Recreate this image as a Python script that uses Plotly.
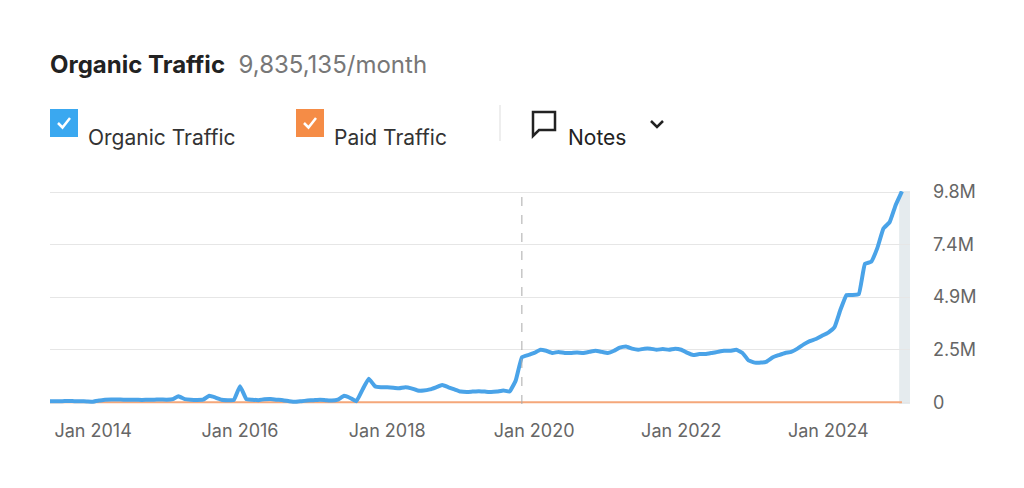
import pandas as pd
import plotly.graph_objects as go

# --- Data (monthly, in millions) ---
months = pd.date_range("2013-06-01", "2025-01-01", freq="MS")
organic_m = (
    [0.05, 0.05, 0.05, 0.06, 0.05, 0.05, 0.04]  # 2013 Jun-Dec
    + [0.03, 0.08, 0.12, 0.13, 0.13, 0.12, 0.12, 0.12, 0.11, 0.12, 0.12, 0.13]  # 2014
    + [0.12, 0.15, 0.28, 0.15, 0.12, 0.11, 0.12, 0.30, 0.22, 0.12, 0.10, 0.10]  # 2015
    + [0.75, 0.15, 0.12, 0.10, 0.14, 0.15, 0.12, 0.10, 0.05, 0.02, 0.05, 0.08]  # 2016
    + [0.10, 0.12, 0.10, 0.08, 0.12, 0.30, 0.20, 0.05, 0.60, 1.10, 0.75, 0.70]  # 2017
    + [0.70, 0.68, 0.65, 0.70, 0.65, 0.55, 0.55, 0.60, 0.70, 0.80, 0.70, 0.60]  # 2018
    + [0.50, 0.48, 0.50, 0.52, 0.50, 0.48, 0.50, 0.55, 0.50, 1.00, 2.10, 2.20]  # 2019
    + [2.30, 2.45, 2.40, 2.30, 2.35, 2.30, 2.30, 2.32, 2.30, 2.35, 2.40, 2.35]  # 2020
    + [2.30, 2.40, 2.55, 2.60, 2.50, 2.45, 2.50, 2.50, 2.45, 2.48, 2.45, 2.50]  # 2021
    + [2.45, 2.30, 2.20, 2.25, 2.25, 2.30, 2.35, 2.40, 2.40, 2.45, 2.30, 1.95]  # 2022
    + [1.85, 1.85, 1.90, 2.10, 2.20, 2.30, 2.35, 2.50, 2.70, 2.85, 2.95, 3.10]  # 2023
    + [3.25, 3.50, 4.30, 5.00, 5.00, 5.05, 6.45, 6.55, 7.20, 8.10, 8.40, 9.20]  # 2024
    + [9.835]  # 2025 Jan
)
organic = [v * 1e6 for v in organic_m]
paid = [0.0] * len(months)

tick_vals = [0, 2.45e6, 4.9e6, 7.35e6, 9.8e6]
tick_text = ["0", "2.5M", "4.9M", "7.4M", "9.8M"]
x_ticks = ["2014-01-01", "2016-01-01", "2018-01-01", "2020-01-01", "2022-01-01", "2024-01-01"]
x_labels = ["Jan 2014", "Jan 2016", "Jan 2018", "Jan 2020", "Jan 2022", "Jan 2024"]

FONT = "Inter, Roboto, sans-serif"
BLUE = "#4aa3e8"
ORANGE = "#f5a77a"

ML, MR, MT, MB = 42, 122, 183, 92
PW = 1024 - ML - MR
PH = 488 - MT - MB


def px(xp):
    return (xp - ML) / PW


def py(yp):
    return (488 - MB - yp) / PH


fig = go.Figure()
fig.add_trace(go.Scatter(x=months, y=paid, mode="lines",
                         line=dict(color=ORANGE, width=2), hoverinfo="skip"))
fig.add_trace(go.Scatter(x=months, y=organic, mode="lines",
                         line=dict(color=BLUE, width=4, shape="spline", smoothing=0.3)))

# highlighted last month + dashed marker
fig.add_vrect(x0="2024-12-18", x1="2025-02-10", fillcolor="#dfe6ea", opacity=0.8,
              line_width=0, layer="below")
fig.add_shape(type="line", x0="2019-11-01", x1="2019-11-01", y0=0, y1=1, yref="paper",
              line=dict(color="#aaaaaa", width=1, dash="dash"))

fig.update_layout(
    width=1024, height=488,
    paper_bgcolor="white", plot_bgcolor="white",
    margin=dict(l=ML, r=MR, t=MT, b=MB),
    showlegend=False,
    font=dict(family=FONT, color="#555555"),
    xaxis=dict(range=["2013-06-01", "2025-02-10"], tickvals=x_ticks, ticktext=x_labels,
               showgrid=False, showline=False, zeroline=False,
               tickfont=dict(size=18, color="#666666"), ticks="", ticklabelstandoff=14),
    yaxis=dict(range=[-0.08e6, 9.85e6], side="right", tickvals=tick_vals, ticktext=tick_text,
               showgrid=True, gridcolor="#e6e6e6", zeroline=False, showline=False,
               tickfont=dict(size=18, color="#666666"), ticklabelstandoff=22),
)

# --- Header texts ---
fig.add_annotation(xref="paper", yref="paper", x=px(40), y=py(40), xanchor="left",
                   showarrow=False,
                   text="<b>Organic Traffic</b>  <span style='color:#777777'>9,835,135/month</span>",
                   font=dict(size=24, color="#222222", family=FONT))


# legend-like checkboxes
def checkbox(x0, color):
    fig.add_shape(type="rect", xref="paper", yref="paper", x0=px(x0), x1=px(x0 + 28),
                  y0=py(129), y1=py(101), fillcolor=color, line_width=0)
    fig.add_shape(type="path", xref="paper", yref="paper",
                  path=f"M {px(x0 + 8)} {py(115)} L {px(x0 + 12.5)} {py(119.5)} L {px(x0 + 20)} {py(110)}",
                  line=dict(color="white", width=2.5))


checkbox(42, "#3aa8f0")
fig.add_annotation(xref="paper", yref="paper", x=px(78), y=py(115), xanchor="left",
                   text="Organic Traffic", showarrow=False, font=dict(size=21, color="#333333"))
checkbox(288, "#f58c46")
fig.add_annotation(xref="paper", yref="paper", x=px(324), y=py(115), xanchor="left",
                   text="Paid Traffic", showarrow=False, font=dict(size=21, color="#333333"))
fig.add_shape(type="line", xref="paper", yref="paper", x0=px(492), x1=px(492), y0=py(133), y1=py(97),
              line=dict(color="#dddddd", width=1))
# notes icon (speech bubble) and chevron
fig.add_shape(type="path", xref="paper", yref="paper",
              path=(f"M {px(525)} {py(104)} L {px(547)} {py(104)} L {px(547)} {py(122)} "
                    f"L {px(531)} {py(122)} L {px(525)} {py(128)} Z"),
              line=dict(color="#222222", width=2.5))
fig.add_annotation(xref="paper", yref="paper", x=px(558), y=py(115), xanchor="left",
                   text="Notes", showarrow=False, font=dict(size=21, color="#222222"))
fig.add_shape(type="path", xref="paper", yref="paper",
              path=f"M {px(643)} {py(113)} L {px(649)} {py(119)} L {px(655)} {py(113)}",
              line=dict(color="#222222", width=2.5))

fig.write_html("out.html")
